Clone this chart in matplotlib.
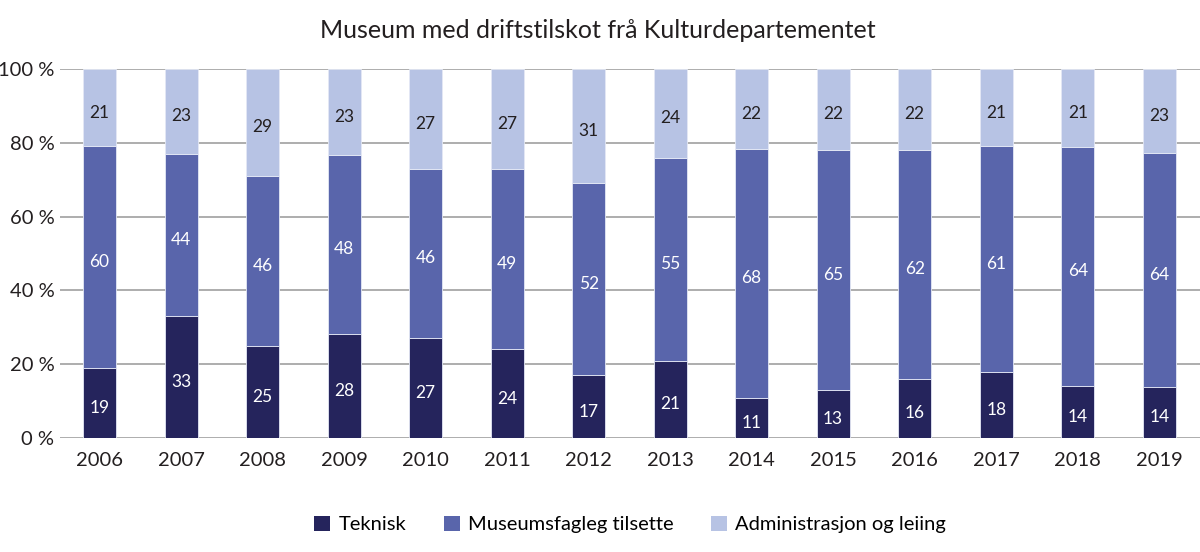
import matplotlib
matplotlib.use("Agg")
import matplotlib.pyplot as plt
import numpy as np

years = ["2006", "2007", "2008", "2009", "2010", "2011", "2012", "2013", "2014", "2015", "2016", "2017", "2018", "2019"]
teknisk = [19, 33, 25, 28, 27, 24, 17, 21, 11, 13, 16, 18, 14, 14]
museumsfagleg = [60, 44, 46, 48, 46, 49, 52, 55, 68, 65, 62, 61, 64, 64]
administrasjon = [21, 23, 29, 23, 27, 27, 31, 24, 22, 22, 22, 21, 21, 23]
series_names = ["Teknisk", "Museumsfagleg tilsette", "Administrasjon og leiing"]
colors = ["#25245c", "#5965ab", "#b7c3e4"]
text_colors = ["white", "white", "#231f20"]

plt.rcParams['font.family'] = ['Lato', 'DejaVu Sans']

fig = plt.figure(figsize=(12, 5.52), dpi=100)
ax = fig.add_axes([0.05, 0.2065, 0.95, 0.6685])

data = np.array([teknisk, museumsfagleg, administrasjon], dtype=float)
totals = data.sum(axis=0)
pct = data / totals * 100
x = np.arange(len(years))
bottom = np.zeros(len(years))
for i in range(3):
    ax.bar(x, pct[i], 0.405, bottom=bottom, color=colors[i], label=series_names[i],
           edgecolor="#e4e8f5", linewidth=0.6, zorder=3)
    for j in range(len(years)):
        ax.annotate(str(int(data[i][j])), (x[j], bottom[j] + pct[i][j] / 2),
                    xytext=(0, -3.5), textcoords="offset points", ha="center", va="center",
                    color=text_colors[i], fontsize=12.5, zorder=4)
    bottom += pct[i]

ax.set_xlim(-0.485, 13.5)
ax.set_ylim(0, 100)
ax.set_yticks([0, 20, 40, 60, 80, 100])
ax.set_yticklabels([f"{v} %" for v in [0, 20, 40, 60, 80, 100]])
ax.set_xticks(x)
ax.set_xticklabels(years)
ax.yaxis.grid(True, color="#a0a0a0", linewidth=1.2, zorder=0)
ax.set_axisbelow(True)
for s in ax.spines.values():
    s.set_visible(False)
ax.tick_params(axis="both", length=0, labelsize=14.5, colors="#231f20")
ax.tick_params(axis="y", pad=4)
ax.tick_params(axis="x", pad=10)

fig.text(0.498, 0.945, "Museum med driftstilskot frå Kulturdepartementet", ha="center", va="center",
         fontsize=18, color="#231f20")

handles, labels = ax.get_legend_handles_labels()
leg = fig.legend(handles, labels, loc="center", bbox_to_anchor=(0.525, 0.05), ncol=3, frameon=False,
                 fontsize=14.5, handlelength=0.8, handleheight=0.8, columnspacing=1.85, handletextpad=0.4)
for h in leg.legend_handles:
    h.set_edgecolor("none")

fig.savefig("out.png", dpi=100)
